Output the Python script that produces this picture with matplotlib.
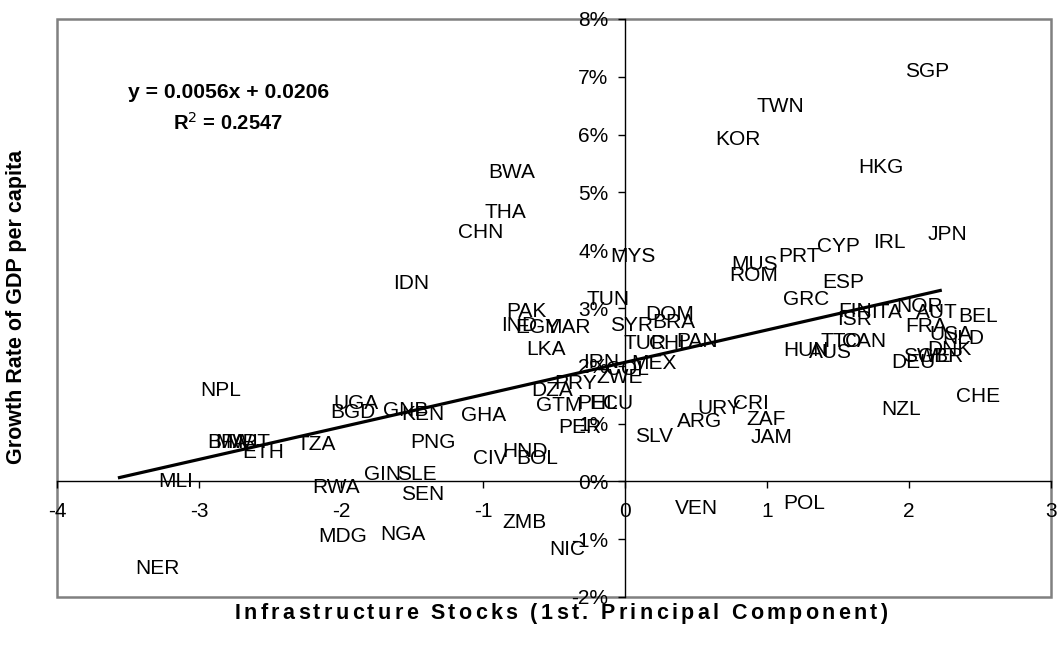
import numpy as np
import matplotlib
matplotlib.use("Agg")
import matplotlib.pyplot as plt
from matplotlib.patches import Rectangle
from matplotlib.ticker import PercentFormatter
from matplotlib.font_manager import FontProperties

plt.rcParams['font.family'] = ['Liberation Sans', 'DejaVu Sans']
plt.rcParams['axes.unicode_minus'] = False

# country codes, infrastructure index (x) and growth rate (y)
codes = ["SGP", "TWN", "KOR", "HKG", "BWA", "THA", "CHN", "MYS", "JPN", "IRL",
         "CYP", "PRT", "MUS", "ROM", "IDN", "ESP", "GRC", "TUN", "PAK", "IND",
         "EGY", "MAR", "SYR", "DOM", "BRA", "TUR", "CHL", "PAN", "LKA", "IRN",
         "COL", "MEX", "ZWE", "PRY", "DZA", "GTM", "PHL", "ECU", "PER", "GHA",
         "HND", "CIV", "BOL", "SLV", "ARG", "URY", "CRI", "ZAF", "JAM", "NZL",
         "CHE", "HUN", "AUS", "TTO", "CAN", "FIN", "ISR", "ITA", "NOR", "AUT",
         "BEL", "FRA", "USA", "NLD", "DNK", "SWE", "GBR", "DEU", "NPL", "UGA",
         "BGD", "GNB", "KEN", "PNG", "TZA", "ETH", "BFA", "MWI", "MRT", "GIN",
         "SLE", "RWA", "SEN", "MLI", "NER", "MDG", "NGA", "ZMB", "NIC", "VEN",
         "POL"]
infra = [1.86, 0.83, 0.53, 1.54, -1.06, -1.11, -1.28, -0.21, 2.01, 1.60,
         1.24, 0.96, 0.65, 0.645, -1.77, 1.27, 1.01, -0.38, -0.96, -1.01,
         -0.88, -0.67, -0.22, 0.05, 0.08, -0.12, 0.05, 0.24, -0.82, -0.43,
         -0.25, -0.06, -0.30, -0.61, -0.78, -0.73, -0.46, -0.36, -0.58, -1.26,
         -0.97, -1.21, -0.88, -0.06, 0.26, 0.40, 0.62, 0.73, 0.77, 1.68,
         2.22, 1.01, 1.18, 1.26, 1.42, 1.36, 1.35, 1.58, 1.81, 1.93,
         2.22, 1.86, 2.03, 2.12, 2.02, 1.86, 1.96, 1.77, -3.11, -2.16,
         -2.18, -1.81, -1.69, -1.62, -2.44, -2.81, -3.07, -3.00, -2.92, -1.97,
         -1.73, -2.30, -1.69, -3.43, -3.56, -2.25, -1.83, -0.97, -0.67, 0.24,
         1.00]
growth = [0.0709, 0.0649, 0.0592, 0.0543, 0.0535, 0.0465, 0.0431, 0.0389, 0.0427, 0.0413,
          0.0407, 0.0389, 0.0375, 0.0356, 0.0343, 0.0344, 0.0315, 0.0315, 0.0294, 0.0270,
          0.0266, 0.0266, 0.0270, 0.0289, 0.0275, 0.0239, 0.0239, 0.0242, 0.0228, 0.0206,
          0.0194, 0.0204, 0.0180, 0.0170, 0.0157, 0.0131, 0.0135, 0.0135, 0.0093, 0.0114,
          0.0052, 0.0040, 0.0040, 0.0078, 0.0104, 0.0126, 0.0135, 0.0107, 0.0076, 0.0125,
          0.0147, 0.0227, 0.0223, 0.0242, 0.0242, 0.0294, 0.0280, 0.0292, 0.0303, 0.0292,
          0.0285, 0.0268, 0.0254, 0.0247, 0.0228, 0.0216, 0.0216, 0.0206, 0.0157, 0.0135,
          0.0119, 0.0123, 0.0116, 0.0067, 0.0064, 0.0050, 0.0067, 0.0067, 0.0067, 0.0012,
          0.0012, -0.0010, -0.0022, 0.0000, -0.0151, -0.0095, -0.0092, -0.0071, -0.0118, -0.0047,
          -0.0038]

# fitted trend line reported on the chart
slope = 0.0056
intercept = 0.0206
r2 = 0.2547

x_title = "Infrastructure Stocks (1st. Principal Component)"
y_title = "Growth Rate of GDP per capita"

W, H = 1060, 653


def spaced_text(fig, cx, cy, s, width, size):
    # bold string drawn char by char, spread out to a given pixel width
    prop = FontProperties(family=['Liberation Sans', 'DejaVu Sans'], weight='bold', size=size)
    r = fig.canvas.get_renderer()
    pre = [r.get_text_width_height_descent(s[:i], prop, ismath=False)[0] if i else 0.0
           for i in range(len(s) + 1)]
    extra = (width - pre[-1]) / (len(s) - 1)
    start = cx - width / 2
    for i, ch in enumerate(s):
        fig.text((start + pre[i] + i * extra) / W, 1 - cy / H, ch, fontproperties=prop,
                 ha='left', va='center_baseline')


x = np.array(infra)
y = np.array(growth)

fig = plt.figure(figsize=(W / 100, H / 100), dpi=100)
ax = fig.add_axes([57 / W, 1 - 597 / H, 994 / W, 578 / H])
ax.set_xlim(-4, 3)
ax.set_ylim(-0.02, 0.08)

# labels placed to the right of (invisible) points
for c, xi, yi in zip(codes, x, y):
    ax.annotate(c, (xi, yi), xytext=(27, 0), textcoords='offset points',
                ha='center', va='center', fontsize=15, color='black')

xl = np.array([x.min(), x.max()])
ax.plot(xl, slope * xl + intercept, color='black', lw=2.3)

# axes crossing at zero
ax.spines['left'].set_position(('data', 0))
ax.spines['bottom'].set_position(('data', 0))
for side in ['left', 'bottom']:
    ax.spines[side].set_color('black')
    ax.spines[side].set_linewidth(1)
ax.spines['top'].set_visible(False)
ax.spines['right'].set_visible(False)
ax.add_patch(Rectangle((0, 0), 1, 1, transform=ax.transAxes, fill=False,
                       edgecolor='#808080', lw=1.8, clip_on=False, zorder=0))

ax.set_xticks(range(-4, 4))
ax.set_yticks(np.arange(-0.02, 0.081, 0.01))
ax.yaxis.set_major_formatter(PercentFormatter(1.0, decimals=0))
ax.tick_params(axis='both', direction='out', length=5, width=1,
               labelsize=15, colors='black')
ax.tick_params(axis='x', pad=10)
ax.tick_params(axis='y', pad=7)

fig.text(229 / W, 1 - 92 / H, "y = %.4fx + %.4f" % (slope, intercept), ha='center',
         va='center', fontsize=15.2, fontweight='bold')
fig.text(228 / W, 1 - 123 / H, "R$^2$ = %.4f" % r2, ha='center', va='center',
         fontsize=14.5, fontweight='bold')

spaced_text(fig, 561, 611, x_title, 653, 15.5)
fig.text(17 / W, 1 - 307 / H, y_title, rotation=90, ha='center', va='center',
         fontsize=15.5, fontweight='bold')

fig.savefig("out.png", dpi=100)
